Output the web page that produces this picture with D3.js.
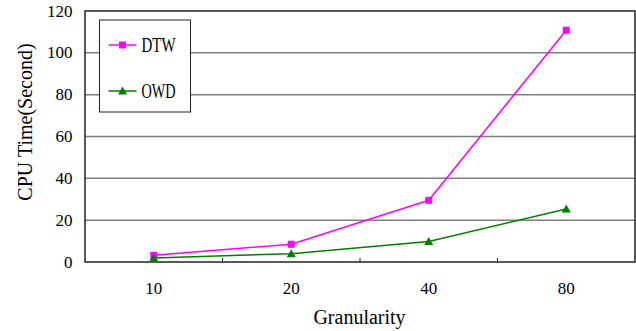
<!DOCTYPE html>
<html>
<head>
<meta charset="utf-8">
<script src="https://cdn.jsdelivr.net/npm/d3@7"></script>
</head>
<body style="margin:0;background:#fff">
<svg id="chart" width="636" height="331"></svg>
<script>
const categories = ['10', '20', '40', '80'];
const dtwValues = [3.2, 8.5, 29.5, 110.8];
const owdValues = [1.9, 4.0, 9.8, 25.3];
const yTicks = [0, 20, 40, 60, 80, 100, 120];

const margin = {top: 11, right: 1, bottom: 69, left: 85};
const width = 636 - margin.left - margin.right;
const height = 331 - margin.top - margin.bottom;
const serif = '"Liberation Serif"';

const svg = d3.select('#chart');
const g = svg.append('g').attr('transform', `translate(${margin.left},${margin.top})`);

const x = d3.scaleBand().domain(categories).range([0, width]);
const y = d3.scaleLinear().domain([0, 120]).range([height, 0]);

// gridlines
g.selectAll('.grid')
  .data(yTicks.filter(d => d > 0 && d < 120))
  .join('line')
  .attr('x1', 0).attr('x2', width)
  .attr('y1', d => y(d)).attr('y2', d => y(d))
  .attr('stroke', '#7f7f7f').attr('stroke-width', 1.5);

// frame
g.append('rect')
  .attr('width', width).attr('height', height)
  .attr('fill', 'none').attr('stroke', '#222').attr('stroke-width', 1.5);

// y axis labels
g.selectAll('.ylab')
  .data(yTicks)
  .join('text')
  .attr('x', -12.5).attr('y', d => y(d))
  .attr('dy', '0.33em')
  .attr('text-anchor', 'end')
  .style('font-family', serif)
  .style('font-size', '17px')
  .text(d => d);

// x ticks between categories (pointing up)
g.selectAll('.xtick')
  .data(categories.slice(1))
  .join('line')
  .attr('x1', d => x(d)).attr('x2', d => x(d))
  .attr('y1', height).attr('y2', height - 4)
  .attr('stroke', '#222').attr('stroke-width', 1);

g.selectAll('.xlab')
  .data(categories)
  .join('text')
  .attr('x', d => x(d) + x.bandwidth() / 2)
  .attr('y', 294 - margin.top)
  .attr('text-anchor', 'middle')
  .style('font-family', serif)
  .style('font-size', '17px')
  .text(d => d);

// axis titles
svg.append('text')
  .attr('x', 359.5)
  .attr('y', 324)
  .attr('text-anchor', 'middle')
  .style('font-family', serif)
  .style('font-size', '20px')
  .text('Granularity');

svg.append('text')
  .attr('transform', 'translate(32,122) rotate(-90)')
  .attr('text-anchor', 'middle')
  .style('font-family', serif)
  .style('font-size', '20px')
  .text('CPU Time(Second)');

const cx = d => x(d) + x.bandwidth() / 2;
const line = d3.line().x((d, i) => cx(categories[i])).y(d => y(d));

const series = [
  {name: 'DTW', values: dtwValues, color: '#ff00ff', marker: 'square'},
  {name: 'OWD', values: owdValues, color: '#008000', marker: 'triangle'}
];

function drawMarker(sel, s) {
  if (s.marker === 'square') {
    sel.append('rect').attr('x', -3.5).attr('y', -3.5).attr('width', 7).attr('height', 7).attr('fill', s.color);
  } else {
    sel.append('path').attr('d', 'M0,-4.5L4.5,3.5L-4.5,3.5Z').attr('fill', s.color);
  }
}

series.forEach(s => {
  g.append('path')
    .datum(s.values)
    .attr('d', line)
    .attr('fill', 'none')
    .attr('stroke', s.color)
    .attr('stroke-width', 1.5);
  g.selectAll(null)
    .data(s.values)
    .join('g')
    .attr('transform', (d, i) => `translate(${cx(categories[i])},${y(d)})`)
    .each(function () { drawMarker(d3.select(this), s); });
});

// legend
const legend = svg.append('g').attr('transform', 'translate(99.5,20)');
legend.append('rect')
  .attr('width', 91).attr('height', 92)
  .attr('fill', '#fff').attr('stroke', '#222').attr('stroke-width', 1);
series.forEach((s, i) => {
  const row = legend.append('g').attr('transform', `translate(0,${25 + i * 46})`);
  row.append('line').attr('x1', 9).attr('x2', 37).attr('stroke', s.color).attr('stroke-width', 1.5);
  drawMarker(row.append('g').attr('transform', 'translate(23,0)'), s);
  row.append('text')
    .attr('x', 42).attr('y', 6.8)
    .style('font-family', serif)
    .style('font-size', '20px')
    .attr('textLength', 34)
    .attr('lengthAdjust', 'spacingAndGlyphs')
    .text(s.name);
});
</script>
</body>
</html>
